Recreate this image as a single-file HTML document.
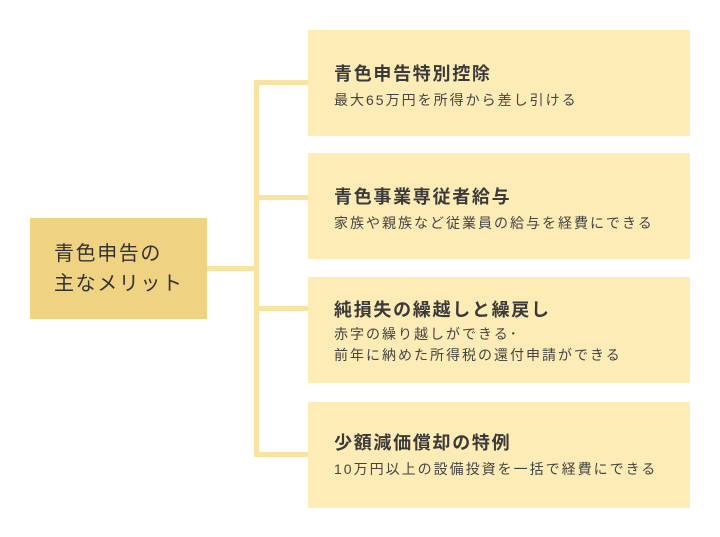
<!DOCTYPE html>
<html><head><meta charset="utf-8"><style>
body{margin:0;width:720px;height:537px;background:#fff;position:relative;font-family:"Liberation Sans","Noto Sans CJK JP",sans-serif;color:#333;overflow:hidden}
.a{position:absolute}
.l{background:#f8e4a0}
.c{position:absolute;left:308px;width:382px;height:106px;background:#fdecb6}
.t{position:absolute;left:26px;font-size:18px;font-weight:bold;color:#3a3a3a;letter-spacing:1.7px;white-space:nowrap}
.s{position:absolute;left:26px;font-size:14px;color:#444;line-height:21px;letter-spacing:2px;white-space:nowrap}
</style></head><body>
<div class="a" style="left:30px;top:218px;width:177px;height:101px;background:#f0d382"></div>
<div class="a" style="left:54px;top:239px;font-size:20px;line-height:30px;color:#333;letter-spacing:1.6px;white-space:nowrap">青色申告の<br>主なメリット</div>
<div class="a l" style="left:207px;top:266px;width:50px;height:5px"></div>
<div class="a l" style="left:254px;top:80px;width:5px;height:377px"></div>
<div class="a l" style="left:254px;top:80px;width:54px;height:5px"></div>
<div class="a l" style="left:254px;top:195px;width:54px;height:5px"></div>
<div class="a l" style="left:254px;top:306px;width:54px;height:5px"></div>
<div class="a l" style="left:254px;top:452px;width:54px;height:5px"></div>
<div class="c" style="top:30px"><div class="t" style="top:30px">青色申告特別控除</div><div class="s" style="top:60px">最大65万円を所得から差し引ける</div></div>
<div class="c" style="top:153px"><div class="t" style="top:30px">青色事業専従者給与</div><div class="s" style="top:60px">家族や親族など従業員の給与を経費にできる</div></div>
<div class="c" style="top:277px"><div class="t" style="top:19px">純損失の繰越しと繰戻し</div><div class="s" style="top:47px">赤字の繰り越しができる･<br>前年に納めた所得税の還付申請ができる</div></div>
<div class="c" style="top:402px"><div class="t" style="top:27px">少額減価償却の特例</div><div class="s" style="top:57px">10万円以上の設備投資を一括で経費にできる</div></div>
</body></html>
